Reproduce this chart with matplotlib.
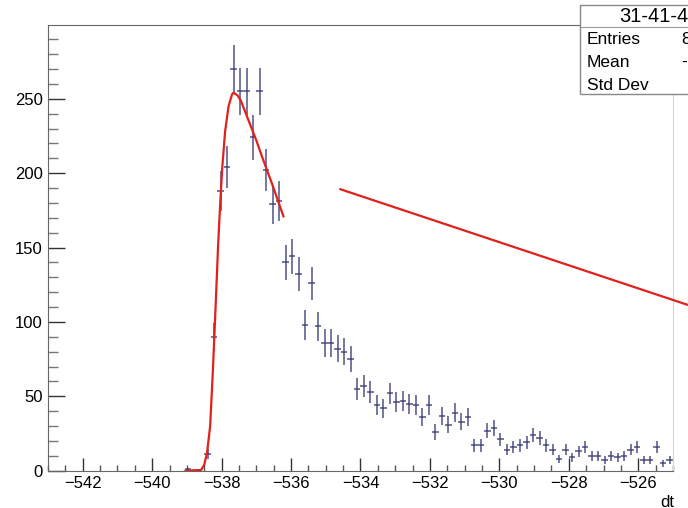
import numpy as np
import matplotlib
matplotlib.use('Agg')
import matplotlib.pyplot as plt
from matplotlib.ticker import MultipleLocator
from matplotlib.patches import Rectangle

plt.rcParams['font.family'] = ['Liberation Sans', 'DejaVu Sans']

# histogram: 0.1875 wide bins starting at -540, first filled bin is #5
bin_lo = -540.0
bin_w = 0.1875
first_bin = 5
counts = [1, 0, 0, 11, 90, 188, 204, 270, 255, 255, 224, 255, 202, 179, 181,
          140, 144, 132, 98, 126, 97, 86, 86, 82, 80, 75, 55, 57, 53, 44,
          42, 52, 46, 47, 45, 44, 36, 44, 26, 37, 31, 39, 33, 36, 17,
          17, 27, 29, 21, 14, 16, 17, 19, 24, 22, 17, 14, 8, 14, 9,
          13, 16, 10, 10, 7, 10, 9, 10, 14, 16, 7, 7, 16, 5, 7]

# fitted curve
fit_x = [-539.04, -538.59, -538.50, -538.42, -538.33, -538.25, -538.17, -538.10,
         -538.04, -537.98, -537.90, -537.80, -537.70, -537.66, -537.55, -537.45,
         -537.30, -537.15, -537.00, -536.85, -536.70, -536.55, -536.40, -536.22]
fit_y = [0, 0.5, 4, 12, 30, 68, 112, 152, 180, 204, 228, 245, 253, 254, 252.5,
         249, 240, 231, 222, 212, 202.5, 193, 183, 171]

# second (straight) function drawn past the frame
line_x = [-534.58, -524.4]
line_y = [189.2, 110.1]

stats_title = '31-41-42'
stats_names = ['Entries', 'Mean', 'Std Dev']
stats_values = ['8', '-', '']

W, H = 688, 508
fig = plt.figure(figsize=(W / 100, H / 100), dpi=100)
ax = fig.add_axes([48 / W, 1 - 470.7 / H, (673 - 48) / W, (470.7 - 25) / H])

counts = np.array(counts, dtype=float)
centers = bin_lo + bin_w * (np.arange(len(counts)) + first_bin + 0.5)
filled = counts > 0
ax.errorbar(centers[filled], counts[filled], xerr=bin_w / 2, yerr=np.sqrt(counts[filled]),
            fmt='none', ecolor='#34376f', elinewidth=1.2, capsize=0, alpha=0.8)

ax.plot(fit_x, fit_y, color='#e2201c', lw=1.6, zorder=3)
ax.plot(line_x, line_y, color='#e2201c', lw=1.6, zorder=3, clip_on=False)

ax.set_xlim(-543, -525)
ax.set_ylim(0, 299.6)
ax.xaxis.set_major_locator(MultipleLocator(2))
ax.xaxis.set_minor_locator(MultipleLocator(0.5))
ax.yaxis.set_major_locator(MultipleLocator(50))
ax.yaxis.set_minor_locator(MultipleLocator(10))
ax.tick_params(axis='x', which='major', direction='in', length=9.5, width=1, color='#333', labelsize=12, pad=4)
ax.tick_params(axis='x', which='minor', direction='in', length=4.5, width=1, color='#555')
ax.tick_params(axis='y', which='major', direction='in', length=12, width=1, color='#333', labelsize=12, pad=3.6)
ax.tick_params(axis='y', which='minor', direction='in', length=7, width=1, color='#777')

for side in ['left', 'bottom', 'top']:
    ax.spines[side].set_color('#666')
ax.spines['right'].set_color('#d4d4d4')

fig.text(674 / W, 1 - 507 / H, 'dt', ha='right', va='baseline', fontsize=12)

# stats box (cut by the right edge of the picture)
box = Rectangle((580 / W, 1 - 94 / H), 200 / W, 89 / H, transform=fig.transFigure,
                facecolor='white', edgecolor='#888', lw=1, zorder=10)
fig.patches.append(box)
fig.add_artist(plt.Line2D([580 / W, 1.2], [1 - 27 / H] * 2, color='#999', lw=0.8, zorder=11))
fig.text(619 / W, 1 - 16 / H, stats_title, ha='left', va='center', fontsize=14.5, zorder=12)
for i, (name, val) in enumerate(zip(stats_names, stats_values)):
    y = 1 - (40 + 22.5 * i) / H
    fig.text(587 / W, y, name, ha='left', va='center', fontsize=12.5, zorder=12)
    fig.text(681 / W, y, val, ha='left', va='center', fontsize=12.5, zorder=12)

fig.savefig('out.png', dpi=100)
